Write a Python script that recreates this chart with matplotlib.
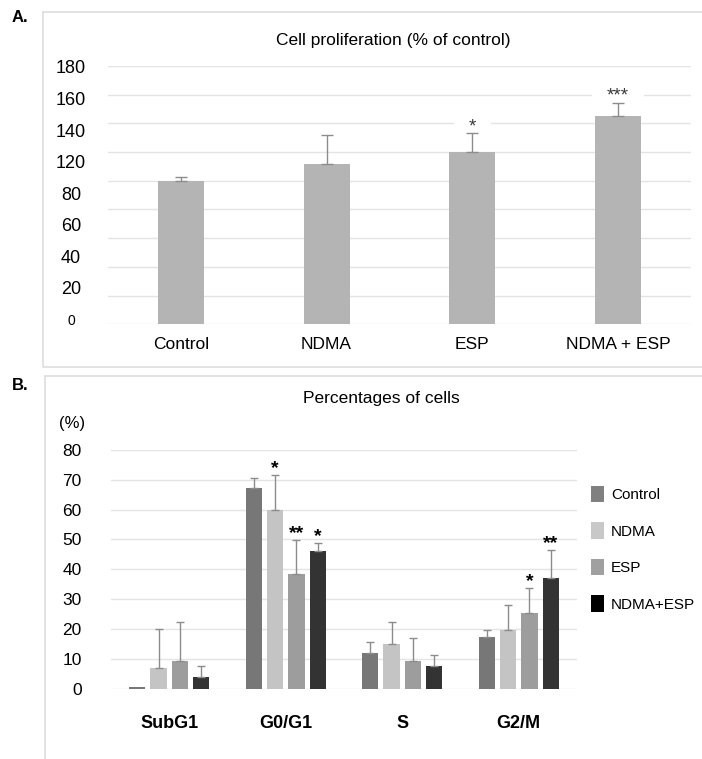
import numpy as np
import matplotlib
matplotlib.use("Agg")
import matplotlib.pyplot as plt
from matplotlib.patches import Patch, Rectangle
from matplotlib.transforms import blended_transform_factory

plt.rcParams['font.family'] = ['Liberation Sans', 'DejaVu Sans']

# ---------------- Data: panel A ----------------
a_categories = ["Control", "NDMA", "ESP", "NDMA + ESP"]
a_values = [100.0, 112.0, 120.0, 145.5]
a_errors = [2.3, 20.0, 13.0, 8.8]
a_stars = ["", "", "*", "***"]
a_tick_labels = ["0", "20", "40", "60", "80", "120", "140", "160", "180"]

# ---------------- Data: panel B ----------------
b_phases = ["SubG1", "G0/G1", "S", "G2/M"]
b_series = ["Control", "NDMA", "ESP", "NDMA+ESP"]
b_control = [0.6, 67.2, 12.2, 17.3]
b_ndma = [7.1, 59.9, 15.0, 19.8]
b_esp = [9.3, 38.6, 9.4, 25.4]
b_ndma_esp = [4.1, 46.0, 7.8, 37.2]
b_control_err = [0.0, 3.4, 3.4, 2.3]
b_ndma_err = [13.1, 11.7, 7.3, 8.3]
b_esp_err = [13.0, 11.3, 7.5, 8.5]
b_ndma_esp_err = [3.5, 2.7, 3.4, 9.4]
b_control_stars = ["", "", "", ""]
b_ndma_stars = ["", "*", "", ""]
b_esp_stars = ["", "**", "", "*"]
b_ndma_esp_stars = ["", "*", "", "**"]
b_ticks = [0, 10, 20, 30, 40, 50, 60, 70, 80]

bar_colors = ["#777777", "#c4c4c4", "#9d9d9d", "#333333"]
legend_colors = ["#808080", "#c8c8c8", "#a0a0a0", "#000000"]

W, H = 702, 759
fig = plt.figure(figsize=(W / 100, H / 100), dpi=100)

def fx(px):
    return px / W

def fy(py):
    return 1 - py / H

# panel frames
fig.patches.append(Rectangle((fx(43), fy(367)), fx(700), fy(12) - fy(367),
                             transform=fig.transFigure, fill=False,
                             edgecolor="#dddddd", lw=1.2))
fig.patches.append(Rectangle((fx(45), fy(770)), fx(700), fy(376) - fy(770),
                             transform=fig.transFigure, fill=False,
                             edgecolor="#dddddd", lw=1.2))

fig.text(fx(12), fy(18), "A.", fontsize=12, fontweight="bold", va="center", ha="left")
fig.text(fx(12), fy(386), "B.", fontsize=12, fontweight="bold", va="center", ha="left")

# ---------------- Panel A ----------------
axA = fig.add_axes([fx(108), fy(324.3), fx(691) - fx(108), fy(66) - fy(324.3)])
xa = np.arange(len(a_categories)) + 0.5
axA.set_xlim(0, 4)
axA.set_ylim(0, 180)
for v in np.arange(0, 181, 20):
    axA.axhline(v, color="#e4e4e4", lw=1, zorder=0.5)
axA.bar(xa, a_values, width=0.315, color="#b4b4b4", zorder=3)
axA.errorbar(xa, a_values, yerr=[np.zeros(4), a_errors], fmt="none",
             ecolor="#8c8c8c", elinewidth=1, capsize=4, capthick=1, zorder=4)
for x, v, e, s in zip(xa, a_values, a_errors, a_stars):
    if s:
        axA.annotate(s, (x, v + e), xytext=(0, -1.5), textcoords="offset points",
                     ha="center", va="bottom", fontsize=13.5, color="#3a3a3a",
                     zorder=2, bbox=dict(boxstyle="square,pad=0.8", fc="white", ec="none"))
axA.set_yticks([])
label_pos = np.linspace(2, 178, len(a_tick_labels))
trA = blended_transform_factory(fig.transFigure, axA.transData)
for lab, pos in zip(a_tick_labels, label_pos):
    axA.text(fx(71), pos, lab, transform=trA,
             ha="center", va="center", fontsize=10 if lab == "0" else 13)
axA.set_xticks(xa)
axA.set_xticklabels(a_categories, fontsize=12.5)
axA.tick_params(axis="x", length=0, pad=9)
for sp in axA.spines.values():
    sp.set_visible(False)
fig.text(fx(393), fy(40), "Cell proliferation (% of control)", fontsize=12.5,
         ha="center", va="center")

# ---------------- Panel B ----------------
axB = fig.add_axes([fx(111), fy(689), fx(577) - fx(111), fy(449.7) - fy(689)])
axB.set_xlim(0, 4)
axB.set_ylim(0, 80)
for v in b_ticks:
    axB.axhline(v, color="#e4e4e4", lw=1, zorder=0.5)
centers = np.arange(len(b_phases)) + 0.5
vals = [b_control, b_ndma, b_esp, b_ndma_esp]
errs = [b_control_err, b_ndma_err, b_esp_err, b_ndma_esp_err]
stars = [b_control_stars, b_ndma_stars, b_esp_stars, b_ndma_esp_stars]
for i in range(4):
    xs = centers + (i - 1.5) * 0.183
    axB.bar(xs, vals[i], width=0.14, color=bar_colors[i], zorder=3)
    e = np.array(errs[i])
    mask = e > 0
    axB.errorbar(xs[mask], np.array(vals[i])[mask], yerr=[np.zeros(mask.sum()), e[mask]],
                 fmt="none", ecolor="#8c8c8c", elinewidth=1, capsize=3, capthick=1, zorder=4)
    for x, v, ee, s in zip(xs, vals[i], errs[i], stars[i]):
        if s:
            axB.annotate(s, (x, v + ee), xytext=(0, -1.5), textcoords="offset points",
                         ha="center", va="bottom", fontsize=14, fontweight="bold",
                         color="black", zorder=5)
axB.set_yticks(b_ticks)
axB.set_yticklabels([str(t) for t in b_ticks], fontsize=12.5)
axB.tick_params(axis="y", length=0, pad=21)
axB.set_xticks(centers)
axB.set_xticklabels(b_phases, fontsize=13, fontweight="bold")
axB.tick_params(axis="x", length=0, pad=19)
for sp in axB.spines.values():
    sp.set_visible(False)
fig.text(fx(381), fy(398), "Percentages of cells", fontsize=12.5, ha="center", va="center")
fig.text(fx(72), fy(424), "(%)", fontsize=12, ha="center", va="center")

handles = [Patch(facecolor=c, edgecolor="none") for c in legend_colors]
fig.legend(handles, b_series, loc="upper left", bbox_to_anchor=(fx(591), fy(486)),
           frameon=False, fontsize=11, handlelength=0.85, handleheight=1.24,
           labelspacing=1.33, handletextpad=0.45, borderaxespad=0, borderpad=0)

fig.savefig("out.png", dpi=100)
